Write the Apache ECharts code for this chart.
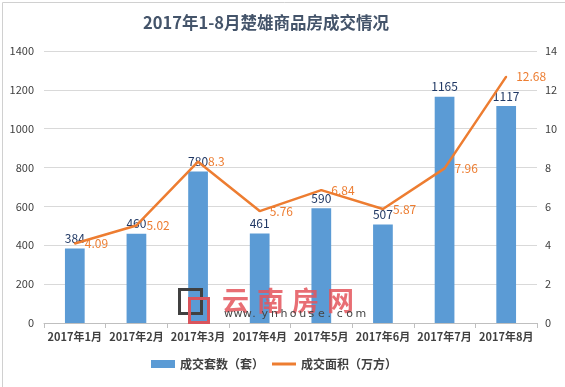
<!DOCTYPE html>
<html><head><meta charset="utf-8">
<script src="https://cdn.jsdelivr.net/npm/echarts@6/dist/echarts.min.js"></script>
<style>html,body{margin:0;padding:0;background:#fff}#c{width:565px;height:387px}</style>
</head><body><div id="c"></div>
<script>
const categories = ['2017年1月','2017年2月','2017年3月','2017年4月','2017年5月','2017年6月','2017年7月','2017年8月'];
const units = [384, 460, 780, 461, 590, 507, 1165, 1117];
const area = [4.09, 5.02, 8.3, 5.76, 6.84, 5.87, 7.96, 12.68];
const leftTicks = [0, 1400, 200];
const rightTicks = [0, 14, 2];
const font = '"Microsoft YaHei","Noto Sans CJK SC",sans-serif';
const wmName = '云南房网';
const wmUrl = 'www.ynhouse.com';
const graphics = [
  {type: 'rect', left: 0, top: 0, shape: {width: 564, height: 386}, style: {fill: 'none', stroke: '#d0d0d0', lineWidth: 1}, silent: true},
  {type: 'rect', left: 177, top: 287, z: 100, shape: {width: 22, height: 24}, style: {fill: 'none', stroke: '#404040', lineWidth: 3}, silent: true},
  {type: 'rect', left: 187, top: 296, z: 100, shape: {width: 19, height: 24}, style: {fill: 'none', stroke: '#d9545c', lineWidth: 3}, silent: true}
];
wmName.split('').forEach((ch, i) => graphics.push({type: 'text', left: 222 + i * 35, top: 287, z: 100,
  style: {text: ch, font: 'bold 27px ' + font, fill: 'rgba(228,85,92,0.85)'}, silent: true}));
wmUrl.split('').forEach((ch, i) => graphics.push({type: 'text', x: 224 + i * 9.4, y: 309, z: 100, zlevel: 1,
  style: {text: ch, font: '11px "DejaVu Sans",sans-serif', fill: '#444', verticalAlign: 'top'}, silent: true}));
const chart = echarts.init(document.getElementById('c'));
chart.setOption({
  animation: false,
  title: {text: '2017年1-8月楚雄商品房成交情况', left: 138, top: 9,
    textStyle: {fontFamily: font, fontSize: 16.5, fontWeight: 'bold', color: '#44546A'}},
  grid: {left: 44, right: 28, top: 51, bottom: 64},
  legend: {left: 146, bottom: 12, itemGap: 8, itemWidth: 24, itemHeight: 8,
    textStyle: {fontFamily: font, fontSize: 12, fontWeight: 'bold', color: '#404040'},
    data: [{name: '成交套数（套）', icon: 'rect'}, {name: '成交面积（万方）', icon: 'path://M0,4L24,4L24,7L0,7Z'}]},
  xAxis: {type: 'category', data: categories,
    axisLine: {lineStyle: {color: '#bfbfbf'}}, axisTick: {show: true, lineStyle: {color: '#bfbfbf'}},
    axisLabel: {interval: 0, fontFamily: font, fontSize: 11, fontWeight: 'bold', color: '#404040', margin: 8}},
  yAxis: [
    {type: 'value', min: leftTicks[0], max: leftTicks[1], interval: leftTicks[2],
     axisLine: {show: false}, axisTick: {show: false},
     axisLabel: {formatter: v => String(v), fontFamily: font, fontSize: 11, color: '#404040', margin: 10},
     splitLine: {lineStyle: {color: '#d9d9d9'}}},
    {type: 'value', min: rightTicks[0], max: rightTicks[1], interval: rightTicks[2],
     axisLine: {show: false}, axisTick: {show: false},
     axisLabel: {fontFamily: font, fontSize: 11, color: '#404040', margin: 8},
     splitLine: {show: false}}
  ],
  series: [
    {name: '成交套数（套）', type: 'bar', data: units, barWidth: '32%',
     itemStyle: {color: '#5B9BD5'},
     label: {show: true, position: 'top', distance: 4, fontFamily: font, fontSize: 12, color: '#203864'}},
    {name: '成交面积（万方）', type: 'line', yAxisIndex: 1, data: area,
     symbol: 'circle', symbolSize: 2, showSymbol: true,
     lineStyle: {color: '#ED7D31', width: 2.5}, itemStyle: {color: '#ED7D31'},
     label: {show: true, position: 'right', distance: 9, fontFamily: font, fontSize: 12, color: '#ED7D31'}}
  ],
  graphic: graphics
});
</script></body></html>
